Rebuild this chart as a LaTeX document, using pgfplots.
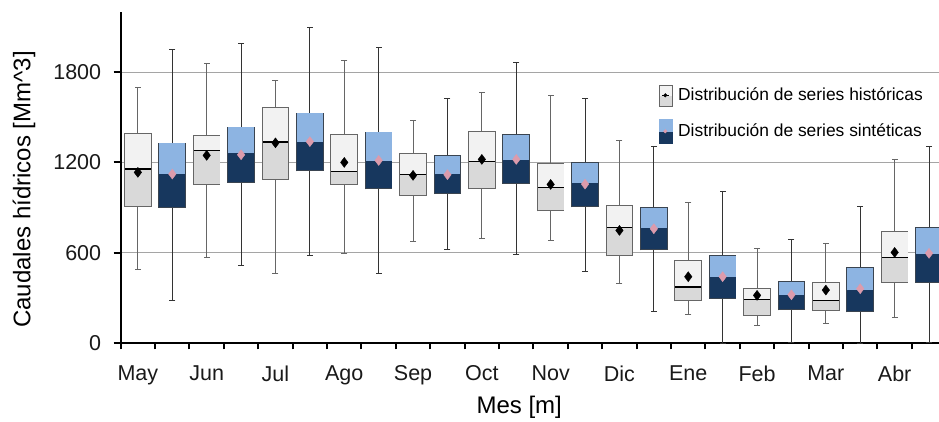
\documentclass[border=0pt]{standalone}
\usepackage{fontspec}
\setmainfont{Liberation Sans}
\usepackage{pgfplots}
\usepackage{pgfplotstable}
\pgfplotsset{compat=1.18}

\definecolor{histup}{HTML}{F2F2F2}
\definecolor{histlow}{HTML}{D9D9D9}
\definecolor{histedge}{HTML}{666666}
\definecolor{synup}{HTML}{8DB4E2}
\definecolor{synlow}{HTML}{17375E}
\definecolor{synedge}{HTML}{3A4450}
\definecolor{synwhisk}{HTML}{333333}
\definecolor{pinkm}{RGB}{220,155,172}
\definecolor{gridc}{RGB}{165,165,165}

% pos, lower whisker, q1, median, q3, upper whisker, mean
\pgfplotstableread{
pos lw q1 med q3 uw mean
0 493 912 1156 1386 1695 1134
2 570 1056 1280 1373 1859 1247
4 464 1092 1335 1562 1744 1330
6 599 1056 1140 1383 1877 1200
8 676 983 1121 1257 1476 1114
10 696 1028 1207 1403 1666 1220
12 683 882 1036 1187 1642 1054
14 398 583 769 912 1344 749
16 194 285 373 544 935 442
18 119 188 292 360 627 318
20 135 219 285 398 660 353
22 172 409 570 736 1220 603
}\hist

\pgfplotstableread{
pos lw q1 med q3 uw mean
1 285 906 1125 1326 1950 1123
3 515 1070 1260 1432 1989 1251
5 583 1147 1335 1525 2095 1338
7 464 1028 1209 1399 1963 1213
9 623 995 1121 1244 1622 1119
11 592 1065 1213 1383 1863 1220
13 479 908 1063 1194 1627 1056
15 214 623 762 895 1308 760
17 0 302 440 581 1005 442
19 5 225 320 409 692 322
21 0 212 351 497 906 362
23 5 409 594 767 1304 597
}\synth

\pgfplotsset{
  % a vertical segment drawn as an error bar of the given width and colour
  seg/.style 2 args={draw=none, mark=none,
    error bars/.cd, y dir=plus, y explicit, error mark=none,
    error bar style={line width=#1, draw=#2}},
  histleg/.style={legend image code/.code={
    \fill[histlow] (0pt,-10.5pt) rectangle (13pt,0pt);
    \fill[histup] (0pt,0pt) rectangle (13pt,10.5pt);
    \draw[histedge, line width=0.6pt] (0pt,-10.5pt) rectangle (13pt,10.5pt);
    \draw[black, line width=0.6pt] (3pt,0pt) -- (10pt,0pt);
    \fill[black] (6.5pt,-1.8pt) -- (8.3pt,0pt) -- (6.5pt,1.8pt) -- (4.7pt,0pt) -- cycle;
  }},
  synleg/.style={legend image code/.code={
    \fill[synlow] (0pt,-12pt) rectangle (13pt,0pt);
    \fill[synup] (0pt,0pt) rectangle (13pt,12pt);
    \fill[pinkm] (6.5pt,-1.8pt) -- (8.3pt,0pt) -- (6.5pt,1.8pt) -- (4.7pt,0pt) -- cycle;
  }},
}

\begin{document}
\begin{tikzpicture}
\begin{axis}[
  name=ax,
  scale only axis,
  width=818.3pt, height=331.6pt,
  xmin=-0.5, xmax=23.29, ymin=0, ymax=2200,
  axis lines*=left,
  axis line style={line width=2pt, black},
  tick align=outside,
  ytick={0,600,1200,1800},
  ymajorgrids,
  grid style={gridc, line width=0.9pt},
  major tick length=7pt,
  minor tick length=6pt,
  major y tick style={black, line width=2pt},
  xtick={0,2,...,22},
  xticklabels={May,Jun,Jul,Ago,Sep,Oct,Nov,Dic,Ene,Feb,Mar,Abr},
  major x tick style={draw=none},
  minor xtick={-0.5,0.5,...,22.5},
  minor x tick style={black, line width=2pt},
  /pgf/number format/assume math mode=true,
  /pgf/number format/1000 sep={},
  ticklabel style={font=\fontsize{21.5}{25}\selectfont, text=black!90},
  xticklabel style={yshift=-12pt},
  yticklabel style={xshift=-9pt},
  xlabel={Mes [m]},
  xlabel style={at={(rel axis cs:0.487,0)}, anchor=north, inner sep=0pt,
    yshift=-53pt, font=\fontsize{24}{28}\selectfont},
  ylabel={Caudales hídricos [Mm\^{}3]},
  every axis y label/.style={at={(axis description cs:-0.118,0.464)},
    rotate=90, anchor=center, font=\fontsize{24}{28}\selectfont},
  legend style={at={(rel axis cs:0.657,0.781)}, anchor=north west,
    draw=none, fill=none, inner sep=0pt, row sep=13pt,
    nodes={inner xsep=6pt, inner ysep=2pt},
    font=\fontsize{17.4}{20}\selectfont},
  legend cell align=left,
]
\addlegendimage{histleg}
\addlegendentry{Distribución de series históricas}
\addlegendimage{synleg}
\addlegendentry{Distribución de series sintéticas}

% whiskers
\addplot[seg={0.8pt}{histedge}] table[x=pos, y=lw, y error plus expr=\thisrow{uw}-\thisrow{lw}]{\hist};
\addplot[seg={0.8pt}{synwhisk}] table[x=pos, y=lw, y error plus expr=\thisrow{uw}-\thisrow{lw}]{\synth};
\addplot[only marks, mark=-, mark size=3pt, histedge, mark options={line width=0.9pt}] table[x=pos, y=uw]{\hist};
\addplot[only marks, mark=-, mark size=3pt, histedge, mark options={line width=0.9pt}] table[x=pos, y=lw]{\hist};
\addplot[only marks, mark=-, mark size=3pt, synwhisk, mark options={line width=0.9pt}] table[x=pos, y=uw]{\synth};
\addplot[only marks, mark=-, mark size=3pt, synwhisk, mark options={line width=0.9pt}] table[x=pos, y=lw]{\synth};

% box outlines
\addplot[seg={27.6pt}{histedge}] table[x=pos, y expr=\thisrow{q1}-6, y error plus expr=\thisrow{q3}-\thisrow{q1}+12]{\hist};
\addplot[seg={27.6pt}{synedge}] table[x=pos, y expr=\thisrow{q1}-6, y error plus expr=\thisrow{q3}-\thisrow{q1}+12]{\synth};

% box halves
\addplot[seg={25.8pt}{histlow}] table[x=pos, y=q1, y error plus expr=\thisrow{med}-\thisrow{q1}]{\hist};
\addplot[seg={25.8pt}{histup}] table[x=pos, y=med, y error plus expr=\thisrow{q3}-\thisrow{med}]{\hist};
\addplot[seg={25.8pt}{synlow}] table[x=pos, y=q1, y error plus expr=\thisrow{med}-\thisrow{q1}]{\synth};
\addplot[seg={25.8pt}{synup}] table[x=pos, y=med, y error plus expr=\thisrow{q3}-\thisrow{med}]{\synth};

% medians of the historical series
\addplot[only marks, mark=-, mark size=12.9pt, mark options={black, line width=1.2pt}] table[x=pos, y=med]{\hist};

% means
\addplot[only marks, mark=diamond*, mark size=5pt, black] table[x=pos, y=mean]{\hist};
\addplot[only marks, mark=diamond*, mark size=5pt, color=pinkm] table[x=pos, y=mean]{\synth};
\end{axis}
\pgfresetboundingbox
\path (ax.south west) ++(-120.7pt,-77.7pt) rectangle ++(939pt,421pt);
\end{tikzpicture}
\end{document}
